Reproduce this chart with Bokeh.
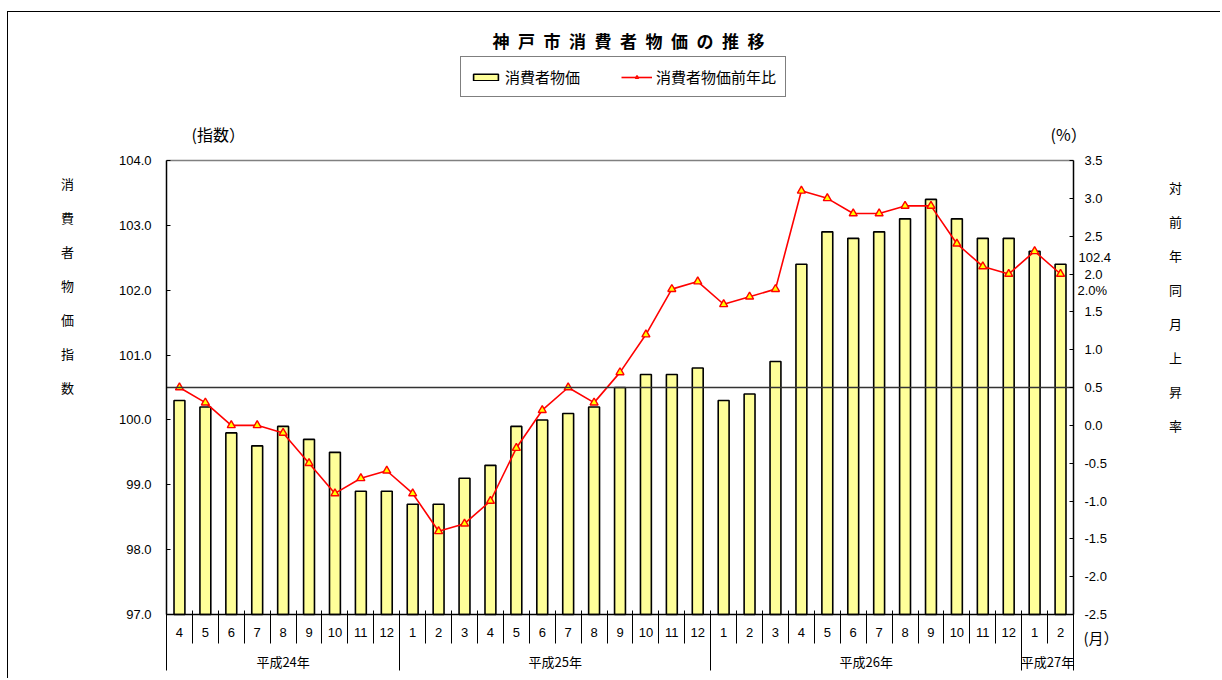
from bokeh.plotting import figure
from bokeh.models import (Range1d, LinearAxis, FixedTicker, NumeralTickFormatter,
                          Label, Legend, LegendItem)
from bokeh.embed import file_html
from bokeh.resources import INLINE

# ---------------- data ----------------
months = ["4", "5", "6", "7", "8", "9", "10", "11", "12",
          "1", "2", "3", "4", "5", "6", "7", "8", "9", "10", "11", "12",
          "1", "2", "3", "4", "5", "6", "7", "8", "9", "10", "11", "12",
          "1", "2"]
year_labels = ["平成24年", "平成25年", "平成26年", "平成27年"]
year_counts = [9, 12, 12, 2]
cpi = [100.3, 100.2, 99.8, 99.6, 99.9, 99.7, 99.5, 98.9, 98.9,
       98.7, 98.7, 99.1, 99.3, 99.9, 100.0, 100.1, 100.2, 100.5, 100.7, 100.7, 100.8,
       100.3, 100.4, 100.9, 102.4, 102.9, 102.8, 102.9, 103.1, 103.4, 103.1, 102.8, 102.8,
       102.6, 102.4]
yoy = [0.5, 0.3, 0.0, 0.0, -0.1, -0.5, -0.9, -0.7, -0.6,
       -0.9, -1.4, -1.3, -1.0, -0.3, 0.2, 0.5, 0.3, 0.7, 1.2, 1.8, 1.9,
       1.6, 1.7, 1.8, 3.1, 3.0, 2.8, 2.8, 2.9, 2.9, 2.4, 2.1, 2.0,
       2.3, 2.0]
left_ticks = [97.0, 98.0, 99.0, 100.0, 101.0, 102.0, 103.0, 104.0]
right_ticks = [-2.5, -2.0, -1.5, -1.0, -0.5, 0.0, 0.5, 1.0, 1.5, 2.0, 2.5, 3.0, 3.5]
base_pct = 0.5  # horizontal reference line (right axis value)

N = len(months)
xs = list(range(N))

FONT = "Liberation Sans, Noto Sans CJK JP"
JFONT = "Noto Sans CJK JP"

# ---------------- layout geometry (page pixels) ----------------
OX, OY = 8, 12             # canvas origin on the page
W, H = 1212, 666           # canvas size
FL, FR, FT, FB = 166, 1073, 160, 614   # plot area
PXX = (FR - FL) / N
LY0, LY1 = left_ticks[0], left_ticks[-1]
RY0, RY1 = right_ticks[0], right_ticks[-1]
PYY = (FB - FT) / (LY1 - LY0)
PPY = (FB - FT) / (RY1 - RY0)

x0 = -0.5 - (FL - OX) / PXX
y1 = LY1 + (FT - OY) / PYY
r1 = RY1 + (FT - OY) / PPY


def dx(px):
    return x0 + (px - OX) / PXX


def dy(py):
    return y1 - (py - OY) / PYY


p = figure(frame_width=W, frame_height=H,
           min_border_left=0, min_border_right=0, min_border_top=0, min_border_bottom=0,
           x_range=Range1d(x0, x0 + W / PXX),
           y_range=Range1d(y1 - H / PYY, y1),
           output_backend="svg", toolbar_location=None,
           x_axis_type=None, y_axis_type=None)
p.extra_y_ranges = {"pct": Range1d(r1 - H / PPY, r1)}
p.xgrid.visible = False
p.ygrid.visible = False
p.outline_line_color = None
p.background_fill_color = "white"
p.border_fill_color = "white"
p.styles = {"border-top": "1px solid #000", "border-left": "1px solid #000",
            "margin-top": f"{OY - 1}px", "margin-left": f"{OX - 1}px"}

XB = (-0.5, N - 0.5)


def no_labels(ax):
    ax.major_label_text_font_size = "0px"
    ax.major_label_text_alpha = 0


# ---------------- value axes ----------------
yl = LinearAxis(ticker=FixedTicker(ticks=left_ticks, minor_ticks=[]),
                formatter=NumeralTickFormatter(format="0.0"),
                fixed_location=XB[0], bounds=(LY0, LY1))
yr = LinearAxis(y_range_name="pct",
                ticker=FixedTicker(ticks=right_ticks, minor_ticks=[]),
                formatter=NumeralTickFormatter(format="0.0"),
                fixed_location=XB[1], bounds=(RY0, RY1))
for ax in (yl, yr):
    ax.major_tick_in = 4
    ax.major_tick_out = 0
    ax.minor_tick_line_color = None
    ax.axis_line_color = "black"
    ax.axis_line_width = 1.5
    ax.major_tick_line_color = "black"
    ax.major_label_text_font = FONT
    ax.major_label_text_font_size = "13px"
    ax.major_label_text_color = "black"
yl.major_label_standoff = 15
yr.major_label_standoff = 11
p.add_layout(yl, "left")
p.add_layout(yr, "right")

# top border of plot area and reference line, drawn as bare axes
top_ax = LinearAxis(ticker=FixedTicker(ticks=[], minor_ticks=[]),
                    fixed_location=LY1, bounds=XB)
top_ax.axis_line_color = "#808080"
top_ax.axis_line_width = 1.5
no_labels(top_ax)
p.add_layout(top_ax, "above")

ref_ax = LinearAxis(ticker=FixedTicker(ticks=[], minor_ticks=[]),
                    fixed_location=LY0 + (base_pct - RY0) * PPY / PYY, bounds=XB)
ref_ax.axis_line_color = "#333333"
ref_ax.axis_line_width = 1.5
no_labels(ref_ax)
p.add_layout(ref_ax, "above")

# ---------------- category axes ----------------
# month labels
m_lab = LinearAxis(ticker=FixedTicker(ticks=[float(i) for i in xs], minor_ticks=[]),
                   fixed_location=LY0, bounds=XB)
m_lab.major_label_overrides = {float(i): months[i] for i in xs}
m_lab.major_tick_in = 0
m_lab.major_tick_out = 0
m_lab.minor_tick_line_color = None
m_lab.major_tick_line_color = None
m_lab.axis_line_color = "black"
m_lab.axis_line_width = 1.5
m_lab.major_label_standoff = 13
m_lab.major_label_text_font = FONT
m_lab.major_label_text_font_size = "13px"
m_lab.major_label_text_color = "black"
p.add_layout(m_lab, "below")

# month separators
m_sep = LinearAxis(ticker=FixedTicker(ticks=[], minor_ticks=[i - 0.5 for i in range(N + 1)]),
                   fixed_location=LY0, bounds=XB)
m_sep.minor_tick_in = 4
m_sep.minor_tick_out = 29
m_sep.minor_tick_line_color = "black"
m_sep.axis_line_color = None
no_labels(m_sep)
p.add_layout(m_sep, "below")

# year labels and separators
bounds = [-0.5]
centers = []
for c in year_counts:
    centers.append(bounds[-1] + c / 2)
    bounds.append(bounds[-1] + c)
y_lab = LinearAxis(ticker=FixedTicker(ticks=centers, minor_ticks=[]),
                   fixed_location=LY0, bounds=XB)
y_lab.major_label_overrides = {float(c): year_labels[k] for k, c in enumerate(centers)}
y_lab.major_tick_in = 0
y_lab.major_tick_out = 0
y_lab.major_tick_line_color = None
y_lab.minor_tick_line_color = None
y_lab.axis_line_color = None
y_lab.major_label_standoff = 37
y_lab.major_label_text_font = JFONT
y_lab.major_label_text_font_size = "13px"
y_lab.major_label_text_color = "black"
p.add_layout(y_lab, "below")

y_sep = LinearAxis(ticker=FixedTicker(ticks=[], minor_ticks=bounds),
                   fixed_location=LY0, bounds=XB)
y_sep.minor_tick_in = 0
y_sep.minor_tick_out = 56
y_sep.minor_tick_line_color = "black"
y_sep.axis_line_color = None
no_labels(y_sep)
p.add_layout(y_sep, "below")

# ---------------- glyphs ----------------
bars = p.vbar(x=xs, top=cpi, bottom=LY0, width=0.42,
              fill_color="#FFFF99", line_color="black", line_width=1.6)
ln = p.line(xs, yoy, y_range_name="pct", line_color="#FF0000", line_width=1.6)
mk = p.scatter(xs, yoy, y_range_name="pct", marker="triangle", size=8,
               line_color="#FF0000", fill_color="#FFFF00", line_width=1.4)

legend = Legend(items=[LegendItem(label="消費者物価", renderers=[bars]),
                       LegendItem(label="消費者物価前年比", renderers=[ln, mk])],
                orientation="horizontal", location=(460 - OX, OY + H - 97))
legend.border_line_color = "black"
legend.border_line_width = 1
legend.padding = 9
legend.spacing = 40
legend.margin = 0
legend.glyph_width = 31
legend.glyph_height = 8
legend.label_height = 14
legend.label_width = 76
legend.label_standoff = 4
legend.label_text_font = JFONT
legend.label_text_font_size = "15px"
legend.label_text_color = "black"
legend.background_fill_alpha = 1
p.add_layout(legend, "center")


# ---------------- texts ----------------
def lab(text, px, py, align="left", size="13px", style="normal", font=FONT):
    p.add_layout(Label(x=dx(px), y=dy(py), text=text, text_align=align,
                       text_baseline="middle", text_font_size=size,
                       text_font_style=style, text_font=font, text_color="black"))


lab("\u2002".join("神戸市消費者物価の推移"), 628, 40, align="center", size="17px",
    style="bold", font=JFONT)
lab("(指数）", 191, 133, size="16px", font=JFONT)
lab("(%）", 1050, 133, size="16px", font=JFONT)
lab("(月）", 1083, 637, size="15px", font=JFONT)
lab("102.4", 1078, 257)
lab("2.0%", 1077, 290)

for k, ch in enumerate("消費者物価指数"):
    lab(ch, 67, 183 + 34 * k, align="center", font=JFONT)
for k, ch in enumerate("対前年同月上昇率"):
    lab(ch, 1175, 187 + 34 * k, align="center", font=JFONT)

open("out.html", "w").write(file_html(p, INLINE))
